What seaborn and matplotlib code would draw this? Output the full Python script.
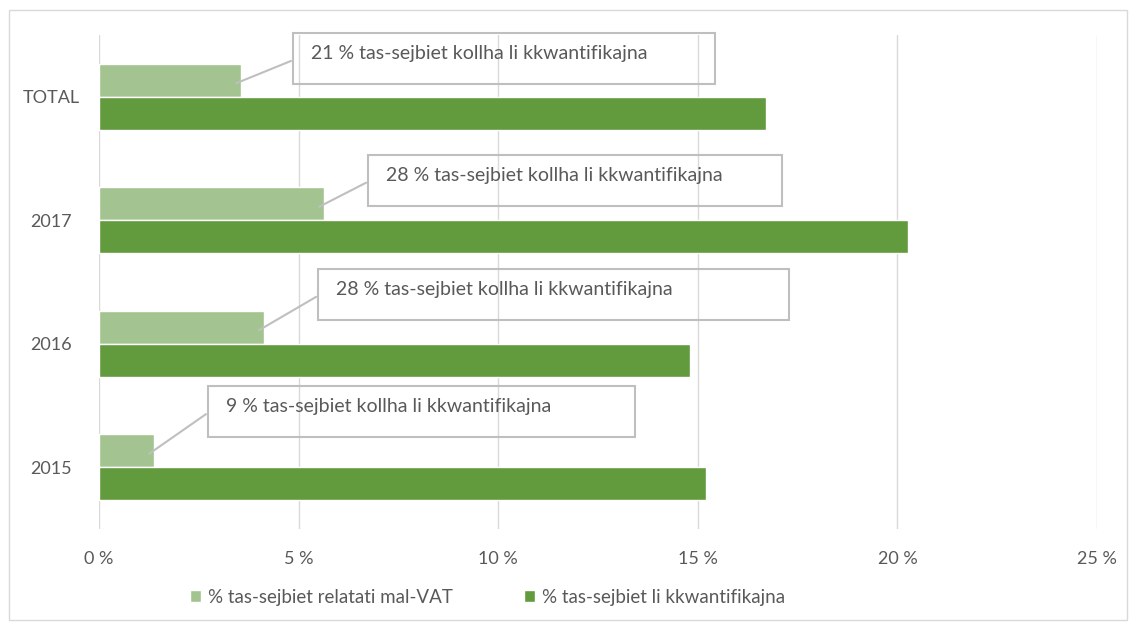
import pandas as pd
import matplotlib.pyplot as plt
import matplotlib.patches as patches
import seaborn as sns

# data
categories = ['TOTAL', '2017', '2016', '2015']
vat_share = [3.56, 5.64, 4.13, 1.38]
quantified_share = [16.7, 20.27, 14.8, 15.2]
notes = ['21 % tas-sejbiet kollha li kkwantifikajna',
         '28 % tas-sejbiet kollha li kkwantifikajna',
         '28 % tas-sejbiet kollha li kkwantifikajna',
         '9 % tas-sejbiet kollha li kkwantifikajna']
series = ['% tas-sejbiet relatati mal-VAT', '% tas-sejbiet li kkwantifikajna']
xticks = [0, 5, 10, 15, 20, 25]

df = pd.DataFrame({
    'cat': categories * 2,
    'val': vat_share + quantified_share,
    'series': [series[0]] * 4 + [series[1]] * 4,
})

sns.set_style('white')
plt.rcParams['font.family'] = ['Lato', 'DejaVu Sans']

fig = plt.figure(figsize=(11.3, 6.29), dpi=100)
ax = fig.add_axes([99 / 1130, 1 - 529 / 629, 998 / 1130, 494 / 629])

sns.barplot(data=df, x='val', y='cat', hue='series', order=categories,
            hue_order=series, palette=['#A3C490', '#629A3E'], orient='h',
            width=0.535, gap=0, saturation=1, errorbar=None, ax=ax, zorder=3)

ax.set_xlim(0, 25)
ax.set_ylim(3.5, -0.5)
ax.set_xticks(xticks)
ax.set_xticklabels([f'{t} %' for t in xticks])
ax.set_xlabel('')
ax.set_ylabel('')
ax.grid(axis='x', color='#D9D9D9', lw=1, zorder=0)
ax.grid(axis='y', visible=False)
for s in ax.spines.values():
    s.set_visible(False)
ax.tick_params(axis='both', length=0, colors='#595959', labelsize=13)
ax.tick_params(axis='x', pad=16)
ax.tick_params(axis='y', pad=34.5)
for t in ax.get_yticklabels():
    t.set_ha('center')

# callout boxes (layout)
box_left = [4.86, 6.74, 5.49, 2.73]
box_right = [15.43, 17.11, 17.28, 13.43]
box_dy = [-0.31, -0.324, -0.40, -0.45]
box_h = 0.413
for i, (v, note) in enumerate(zip(vat_share, notes)):
    yc = i + box_dy[i]
    rect = patches.Rectangle((box_left[i], yc - box_h / 2), box_right[i] - box_left[i], box_h,
                             fill=False, edgecolor='#BFBFBF', lw=1.5, zorder=5, clip_on=False)
    ax.add_patch(rect)
    ax.text(box_left[i] + 0.45, yc - 0.04, note, va='center', ha='left',
            fontsize=14, color='#595959', zorder=6)
    ax.plot([v - 0.12, box_left[i] - 0.05], [i - 0.11, yc + 0.02],
            color='#BFBFBF', lw=1.5, zorder=6)

leg = ax.legend(loc='center left', bbox_to_anchor=(173 / 1130, 1 - 597 / 629),
                bbox_transform=fig.transFigure, ncol=2, frameon=False,
                handlelength=0.6, handleheight=0.6, handletextpad=0.35,
                columnspacing=3.8, fontsize=13.5)
for t in leg.get_texts():
    t.set_color('#595959')

fig.patches.append(patches.Rectangle((9 / 1130, 1 - 620 / 629), 1118 / 1130, 610 / 629,
                                     transform=fig.transFigure, fill=False,
                                     edgecolor='#D9D9D9', lw=1))

fig.savefig('out.png', dpi=100)
